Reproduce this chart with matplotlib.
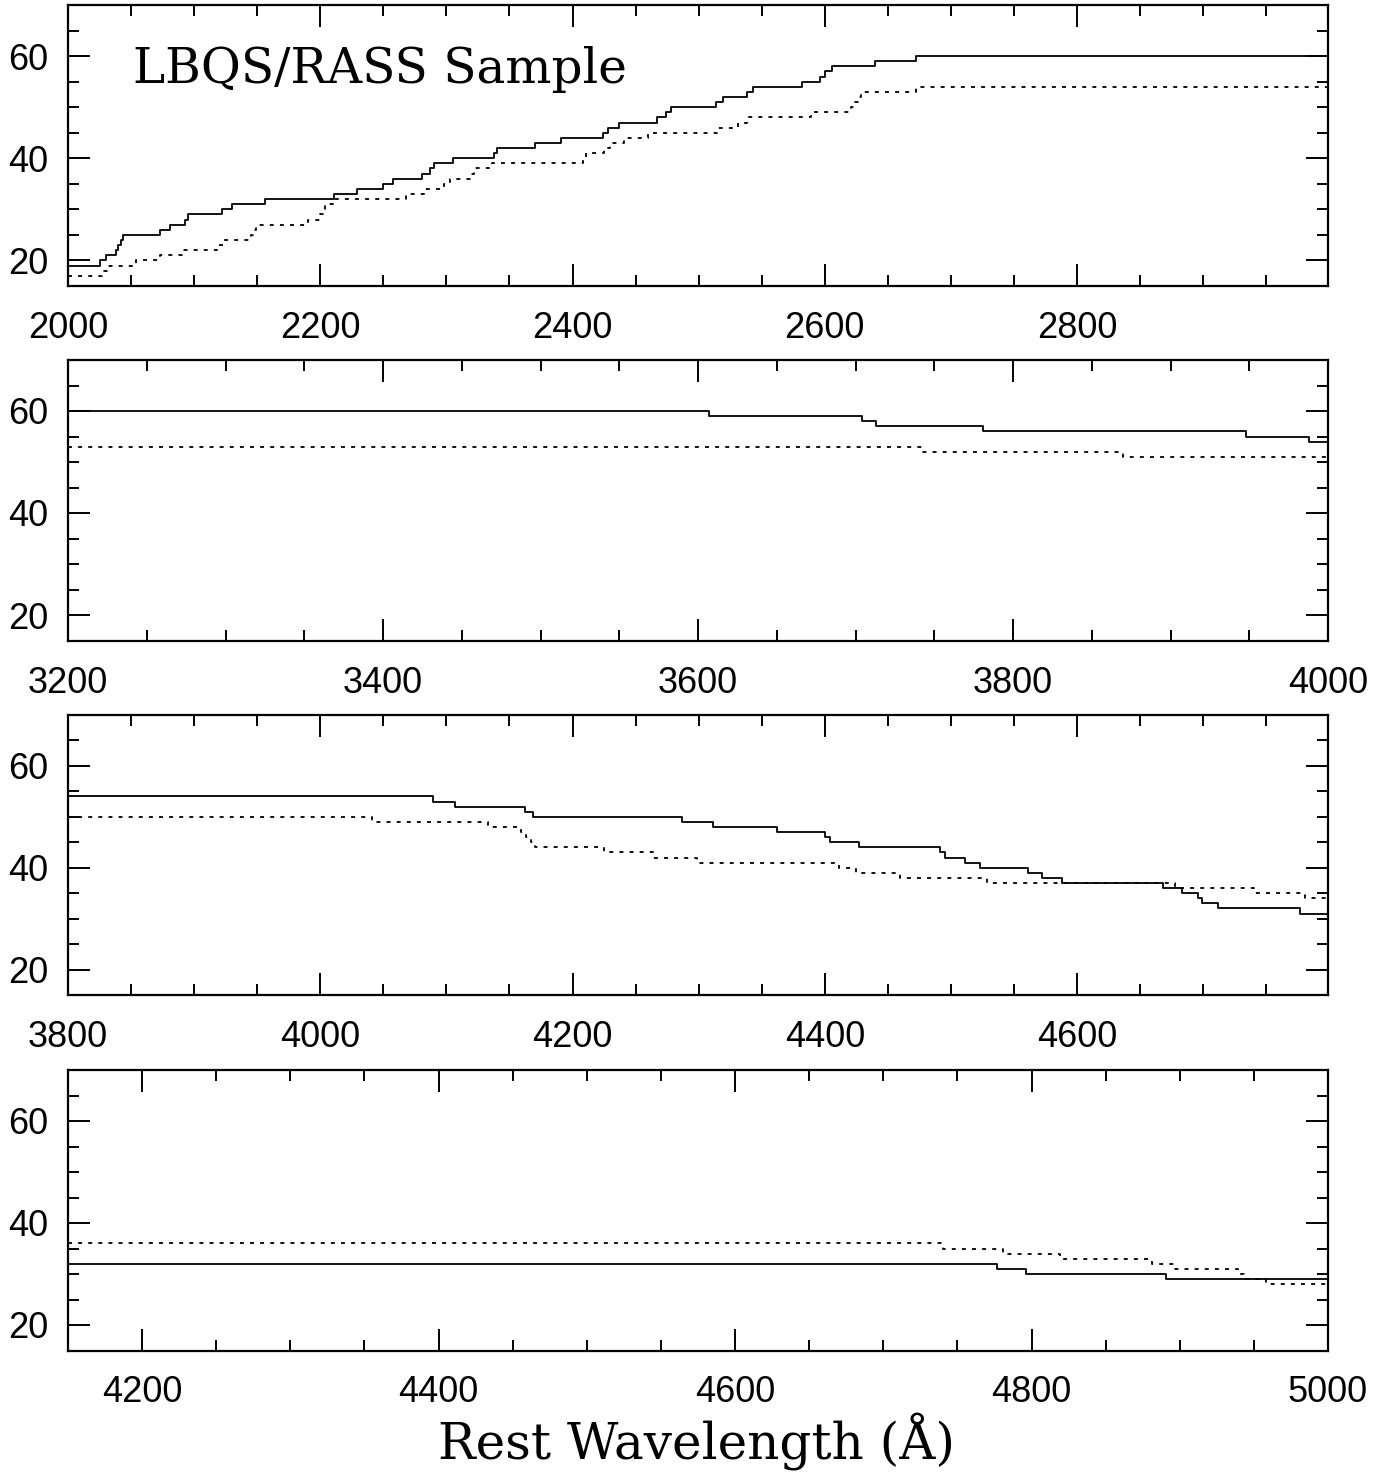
import numpy as np
import matplotlib
matplotlib.use("Agg")
import matplotlib.pyplot as plt
from matplotlib.ticker import MultipleLocator

# panel 1 (2000-3000 A)
p1_wave_solid = [2000, 2025, 2030, 2038, 2040, 2042, 2044, 2073, 2081, 2093, 2095,
                 2122, 2130, 2156, 2211, 2229, 2250, 2258, 2281, 2287, 2290, 2305,
                 2338, 2340, 2370, 2391, 2424, 2428, 2437, 2467, 2474, 2478, 2514,
                 2519, 2538, 2543, 2582, 2596, 2600, 2606, 2640, 2672]
p1_n_solid = [19, 20, 21, 22, 23, 24, 25, 26, 27, 28, 29, 30, 31, 32, 33, 34, 35,
              36, 37, 38, 39, 40, 41, 42, 43, 44, 45, 46, 47, 48, 49, 50, 51, 52,
              53, 54, 55, 56, 57, 58, 59, 60]
p1_wave_dot = [2000, 2027, 2031, 2054, 2073, 2090, 2118, 2123, 2145, 2147, 2149,
               2190, 2200, 2202, 2204, 2210, 2268, 2282, 2298, 2303, 2319, 2322,
               2336, 2408, 2411, 2425, 2430, 2441, 2460, 2515, 2531, 2538, 2589,
               2621, 2624, 2627, 2629, 2672]
p1_n_dot = [17, 18, 19, 20, 21, 22, 23, 24, 25, 26, 27, 28, 29, 30, 31, 32, 33, 34,
            35, 36, 37, 38, 39, 40, 41, 42, 43, 44, 45, 46, 47, 48, 49, 50, 51, 52,
            53, 54]

# panel 2 (3200-4000 A)
p2_wave_solid = [3200, 3607, 3704, 3713, 3781, 3948, 3988]
p2_n_solid = [60, 59, 58, 57, 56, 55, 54]
p2_wave_dot = [3200, 3742, 3870]
p2_n_dot = [53, 52, 51]

# panel 3 (3800-4800 A)
p3_wave_solid = [3800, 4089, 4107, 4162, 4169, 4287, 4311, 4362, 4400, 4404, 4427,
                 4491, 4495, 4511, 4523, 4561, 4572, 4588, 4668, 4683, 4696, 4699,
                 4712, 4777]
p3_n_solid = [54, 53, 52, 51, 50, 49, 48, 47, 46, 45, 44, 43, 42, 41, 40, 39, 38,
              37, 36, 35, 34, 33, 32, 31]
p3_wave_dot = [3800, 4041, 4133, 4159, 4163, 4167, 4170, 4225, 4264, 4299, 4411,
               4425, 4460, 4529, 4678, 4740, 4781]
p3_n_dot = [50, 49, 48, 47, 46, 45, 44, 43, 42, 41, 40, 39, 38, 37, 36, 35, 34]

# panel 4 (4150-5000 A)
p4_wave_solid = [4150, 4777, 4796, 4891]
p4_n_solid = [32, 31, 30, 29]
p4_wave_dot = [4150, 4740, 4781, 4819, 4881, 4896, 4939, 4943, 4958]
p4_n_dot = [36, 35, 34, 33, 32, 31, 30, 29, 28]

panels = [
    (p1_wave_solid, p1_n_solid, p1_wave_dot, p1_n_dot, (2000, 2999)),
    (p2_wave_solid, p2_n_solid, p2_wave_dot, p2_n_dot, (3200, 4000)),
    (p3_wave_solid, p3_n_solid, p3_wave_dot, p3_n_dot, (3800, 4799)),
    (p4_wave_solid, p4_n_solid, p4_wave_dot, p4_n_dot, (4150, 5000)),
]

W, H = 1394, 1474
fig = plt.figure(figsize=(W / 100, H / 100), dpi=100)

# pixel boxes of the four panels: top, bottom
boxes = [(5, 286), (360, 640.5), (715, 995), (1070, 1350.5)]
left, right = 68, 1328

tickfont = "Liberation Sans"
labelfont = "DejaVu Serif"

for (ws, ns, wd, nd, xlim), (top, bot) in zip(panels, boxes):
    ax = fig.add_axes([left / W, 1 - bot / H, (right - left) / W, (bot - top) / H])
    xs = np.append(ws, xlim[1])
    ys = np.append(ns, ns[-1])
    ax.step(xs, ys, where="post", color="black", lw=1.3)
    xd = np.append(wd, xlim[1])
    yd = np.append(nd, nd[-1])
    ax.step(xd, yd, where="post", color="black", lw=1.3, dashes=(2.2, 3.4))

    ax.set_xlim(*xlim)
    ax.set_ylim(15, 70)
    ax.xaxis.set_major_locator(MultipleLocator(200))
    ax.xaxis.set_minor_locator(MultipleLocator(50))
    ax.yaxis.set_major_locator(MultipleLocator(20))
    ax.yaxis.set_minor_locator(MultipleLocator(5))
    ax.tick_params(which="both", direction="in", top=True, right=True,
                   width=1.4, labelsize=26, colors="black")
    ax.tick_params(which="major", length=16)
    ax.tick_params(which="minor", length=8)
    ax.tick_params(axis="x", which="major", pad=18)
    ax.tick_params(axis="y", which="major", pad=14)
    for lab in ax.get_xticklabels() + ax.get_yticklabels():
        lab.set_fontfamily(tickfont)
    for sp in ax.spines.values():
        sp.set_linewidth(1.6)

    if top == 5:
        ax.text((133 - left) / (right - left), (bot - 83) / (bot - top),
                "LBQS/RASS Sample", transform=ax.transAxes, ha="left",
                va="baseline", fontsize=35, family=labelfont)

fig.text(697 / W, 1 - 1458 / H, "Rest Wavelength (Å)", ha="center",
         va="baseline", fontsize=36, family=labelfont)

fig.savefig("out.png", dpi=100)
